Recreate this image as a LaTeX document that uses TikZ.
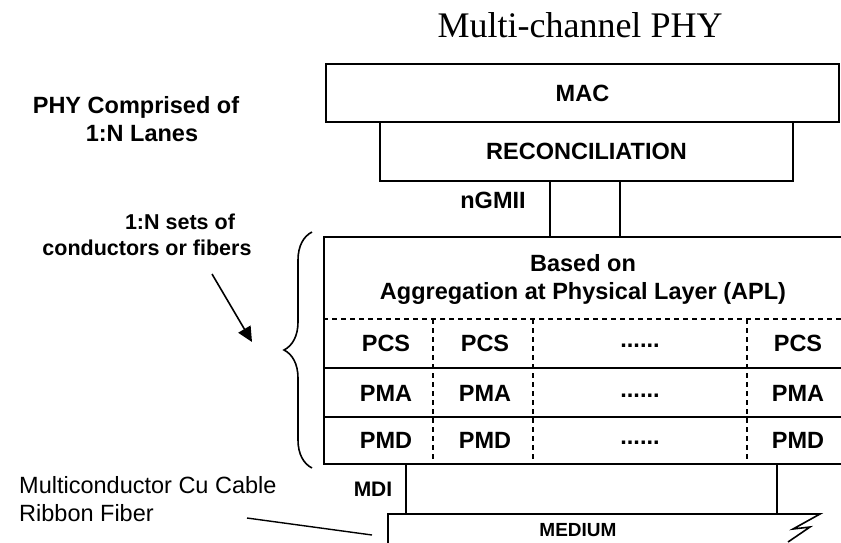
\documentclass[tikz,border=0pt]{standalone}
\usepackage{fontspec}
\setmainfont{Liberation Sans}
\newfontfamily\titlefont{Liberation Serif}
\usetikzlibrary{arrows.meta,decorations.pathreplacing}
\tikzset{
  layer/.style={draw,line width=1.6pt,inner sep=0pt},
  lbl/.style={font=\fontsize{23.5}{28}\selectfont\bfseries,inner sep=0pt,align=center},
  note/.style={font=\fontsize{23.5}{28}\selectfont,inner sep=0pt,anchor=west},
  wire/.style={line width=1.4pt},
  lane/.style={line width=1.3pt,dash pattern=on 5pt off 4pt},
}

\begin{document}
\begin{tikzpicture}[x=1pt,y=-1pt]
  \useasboundingbox (0,0) rectangle (841,542);
  \fill[white] (0,0) rectangle (841,542);
  \clip (0,0) rectangle (841,542);

  % title
  \node[font=\titlefont\fontsize{36}{40}\selectfont,inner sep=0pt,anchor=base] (title) at (580,37) {Multi-channel PHY};

  % stack of layers
  \node[layer,minimum width=513pt,minimum height=58pt] (mac) at (582.5,93) {};
  \node[lbl] (maclbl) at (mac.center) {MAC};
  \node[layer,minimum width=413pt,minimum height=59pt] (recon) at (586.5,151.5) {};
  \node[lbl] (reconlbl) at (recon.center) {RECONCILIATION};
  \node[layer,minimum width=525pt,minimum height=227pt] (apl) at (586.5,350.5) {};
  \node[lbl] (apllbl) at (583,279) {Based on\\Aggregation at Physical Layer (APL)};

  % nGMII
  \coordinate (g1) at (550,0);
  \coordinate (g2) at (620,0);
  \draw[wire] (recon.south -| g1) -- (apl.north -| g1);
  \draw[wire] (recon.south -| g2) -- (apl.north -| g2);
  \node[lbl] (ngmii) at (493,200) {nGMII};

  % lanes
  \draw[lane] (apl.west |- 0,319) -- (apl.east |- 0,319);
  \draw[layer] (apl.west |- 0,368) -- (apl.east |- 0,368);
  \draw[layer] (apl.west |- 0,417) -- (apl.east |- 0,417);
  \foreach \x in {433,533,747}
    \draw[lane] (\x,319) -- (apl.south -| \x,0);
  \foreach \row/\y in {PCS/343,PMA/393,PMD/440}{
    \node[lbl] (\row-1) at (386,\y) {\row};
    \node[lbl] (\row-2) at (485,\y) {\row};
    \node[lbl,anchor=base] (\row-dots) at (640,\y+4) {......};
    \node[lbl] (\row-n) at (798,\y) {\row};
  }

  % MDI and medium
  \coordinate (m1) at (406,514);
  \coordinate (m2) at (777,514);
  \draw[wire] (apl.south -| m1) -- (m1);
  \draw[wire] (apl.south -| m2) -- (m2);
  \node[lbl,font=\fontsize{21}{24}\selectfont\bfseries] (mdi) at (373,489) {MDI};
  \draw[layer] (388,550) -- (388,514) -- (820,514) -- (793,529) -- (810,527) -- (788,542);
  \node[lbl,font=\fontsize{19}{22}\selectfont\bfseries] (medium) at (578,530) {MEDIUM};

  % left side notes
  \node[lbl] (phy1) at (136,107) {PHY Comprised of};
  \node[lbl] (phy2) at (142,134) {1:N Lanes};
  \node[lbl,font=\fontsize{21.5}{26}\selectfont\bfseries] (sets1) at (180,222) {1:N sets of};
  \node[lbl,font=\fontsize{21.5}{26}\selectfont\bfseries] (sets2) at (147,248) {conductors or fibers};
  \coordinate (atail) at (212,274);
  \coordinate (atip) at (252,342);
  \draw[line width=1.6pt,-{Triangle[length=15pt,width=14pt]}] (atail) -- (atip);
  \draw[line width=1.6pt,decorate,decoration={brace,amplitude=28pt}] (312,468) -- (312,232);

  \node[note] (cable1) at (19,485) {Multiconductor Cu Cable};
  \node[note] (cable2) at (19,513) {Ribbon Fiber};
  \coordinate (c1) at (247,518);
  \coordinate (c2) at (372,535);
  \draw[wire] (c1) -- (c2);
\end{tikzpicture}
\end{document}
